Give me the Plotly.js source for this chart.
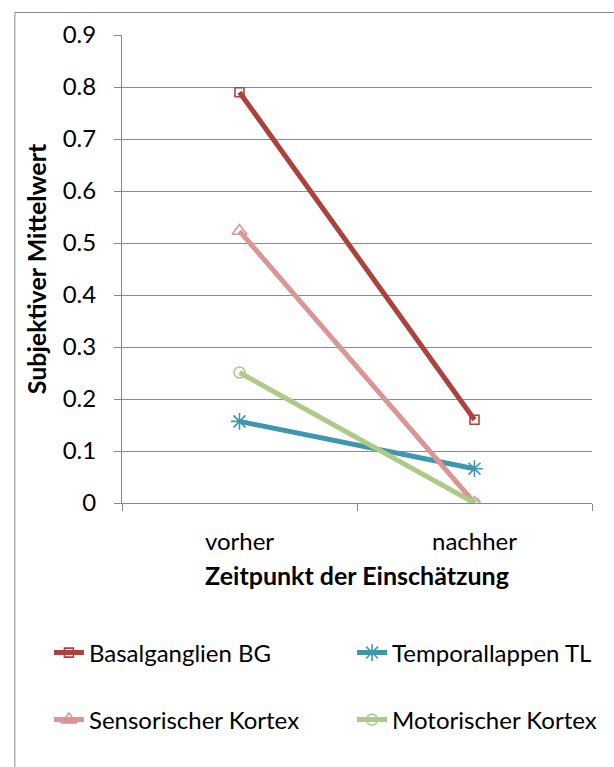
<!DOCTYPE html>
<html>
<head>
<meta charset="utf-8">
<script src="https://cdn.plot.ly/plotly-3.0.1.min.js"></script>
<style>html,body{margin:0;padding:0;background:#fff;}#chart{width:614px;height:767px;}</style>
</head>
<body>
<div id="chart"></div>
<script>
const categories = ['vorher', 'nachher'];
const seriesNames = ['Basalganglien BG', 'Temporallappen TL', 'Sensorischer Kortex', 'Motorischer Kortex'];
const basalganglien = [0.79, 0.16];
const temporallappen = [0.157, 0.066];
const sensorisch = [0.523, 0.0];
const motorisch = [0.251, 0.0];
const yTicks = [0, 0.1, 0.2, 0.3, 0.4, 0.5, 0.6, 0.7, 0.8, 0.9];

const font = 'Lato, "Open Sans", sans-serif';
const xIdx = categories.map((c, i) => i);
const styles = [
  {color: '#AC413D', symbol: 'square-open', size: 9, legend: 'legend'},
  {color: '#3E97AF', symbol: 'asterisk-open', size: 14, legend: 'legend2'},
  {color: '#D99695', symbol: 'triangle-up-open', size: 13, legend: 'legend3'},
  {color: '#ADCB87', symbol: 'circle-open', size: 11, legend: 'legend4'}
];
const values = [basalganglien, temporallappen, sensorisch, motorisch];
const traces = values.map((v, i) => ({
  type: 'scatter', mode: 'lines+markers', x: xIdx, y: v, name: seriesNames[i],
  legend: styles[i].legend,
  line: {color: styles[i].color, width: 5},
  marker: {symbol: styles[i].symbol, size: styles[i].size, color: styles[i].color, line: {color: styles[i].color, width: 1.6}}
}));
traces.push({type: 'scatter', x: xIdx, y: [0, 0], xaxis: 'x2', mode: 'markers', marker: {opacity: 0}, showlegend: false, hoverinfo: 'skip'});

const legendCommon = {orientation: 'v', xanchor: 'left', yanchor: 'middle',
  font: {family: font, size: 24, color: '#000'}, bgcolor: 'rgba(0,0,0,0)', itemwidth: 30};
const col1 = (48 - 122) / 476, col2 = (355 - 122) / 476;
const row1 = (503 - 653) / 468, row2 = (503 - 720) / 468;

const layout = {
  width: 614, height: 767,
  margin: {l: 122, r: 16, t: 35, b: 264},
  paper_bgcolor: '#fff', plot_bgcolor: '#fff',
  font: {family: font, color: '#000'},
  showlegend: true,
  xaxis: {
    range: [-0.5, 1.5], tickmode: 'array', tickvals: [-0.5, 0.5, 1.5], ticktext: ['', '', ''],
    ticks: 'outside', ticklen: 7, tickcolor: '#888', tickwidth: 1,
    showline: true, linecolor: '#888', linewidth: 1, showgrid: false, zeroline: false, fixedrange: true
  },
  xaxis2: {
    overlaying: 'x', side: 'bottom', anchor: 'y', range: [-0.5, 1.5], tickmode: 'array', tickvals: xIdx, ticktext: categories,
    ticks: '', showline: false, showgrid: false, zeroline: false, tickfont: {family: font, size: 24, color: '#000'},
    ticklabelstandoff: 22,
    title: {text: '<b>Zeitpunkt der Einschätzung</b>', font: {family: font, size: 25, color: '#000'}, standoff: 13}
  },
  yaxis: {
    range: [0, 0.9], tickmode: 'array', tickvals: yTicks, ticktext: yTicks.map(v => v === 0 ? '0' : v.toFixed(1)),
    ticks: 'outside', ticklen: 7, tickcolor: '#888', showline: true, linecolor: '#888', linewidth: 1,
    showgrid: true, gridcolor: '#8c8c8c', gridwidth: 1, zeroline: false,
    tickfont: {family: font, size: 24, color: '#000'}, ticklabelstandoff: 13,
    title: {text: '<b>Subjektiver Mittelwert</b>', font: {family: font, size: 25, color: '#000'}, standoff: 8}
  },
  legend: Object.assign({x: col1, y: row1}, legendCommon),
  legend2: Object.assign({x: col2, y: row1}, legendCommon),
  legend3: Object.assign({x: col1, y: row2}, legendCommon),
  legend4: Object.assign({x: col2, y: row2}, legendCommon),
  shapes: [
    {type: 'line', xref: 'paper', yref: 'paper', x0: (13.5 - 122) / 476, x1: (620 - 122) / 476, y0: (503 - 12.5) / 468, y1: (503 - 12.5) / 468, line: {color: '#888', width: 1}},
    {type: 'line', xref: 'paper', yref: 'paper', x0: (13.5 - 122) / 476, x1: (13.5 - 122) / 476, y0: (503 - 12.5) / 468, y1: (503 - 780) / 468, line: {color: '#888', width: 1}}
  ]
};

Plotly.newPlot('chart', traces, layout, {displayModeBar: false, staticPlot: true});
</script>
</body>
</html>
